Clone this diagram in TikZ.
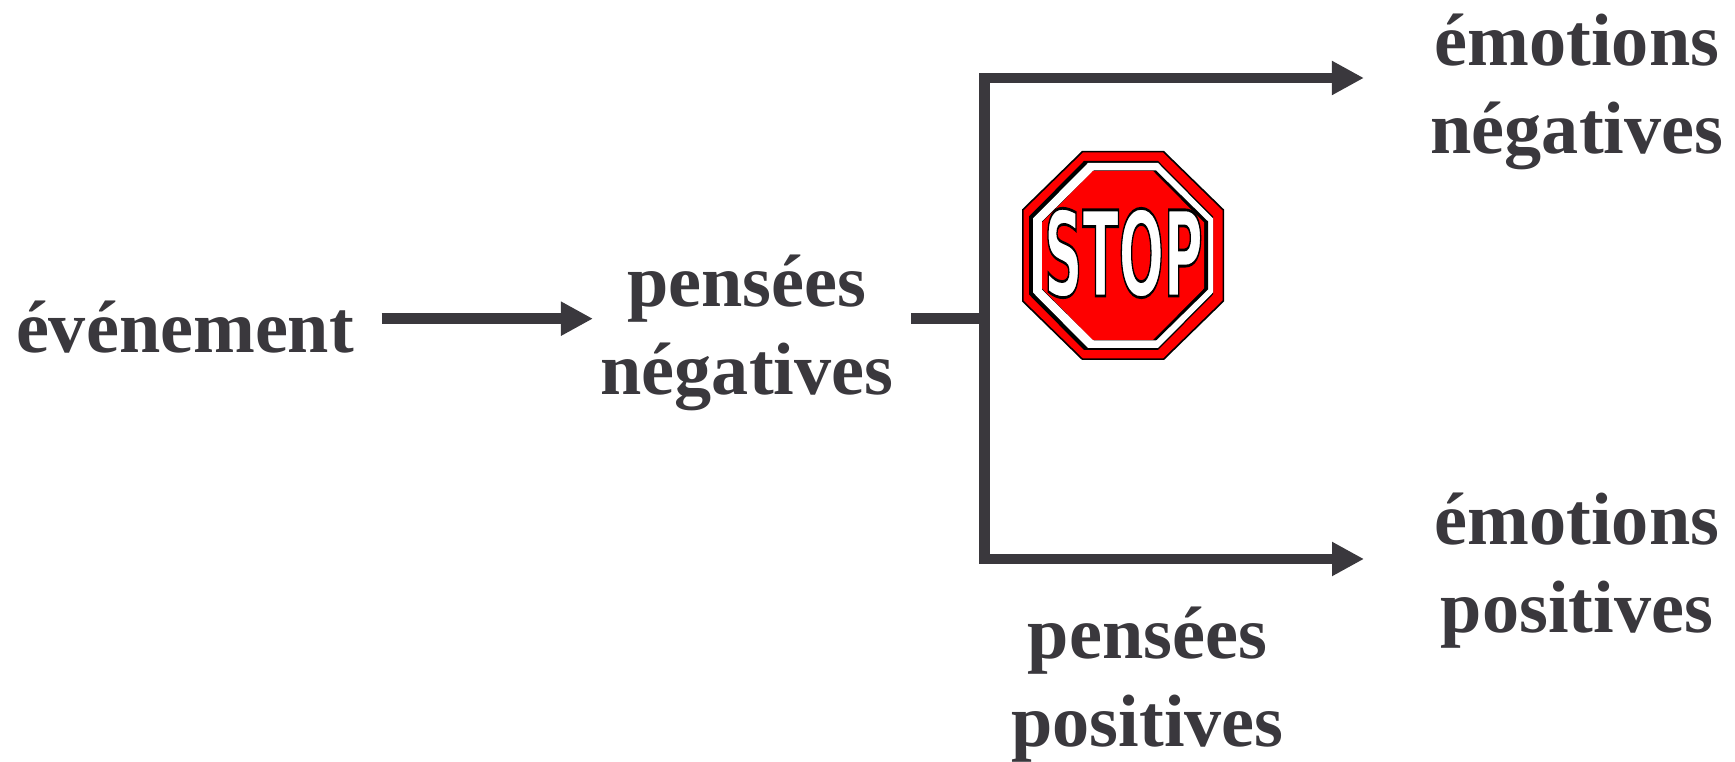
\documentclass[tikz,border=0pt]{standalone}
\usepackage{fontspec}
\setmainfont{Liberation Serif}
\newfontfamily\stopfont{DejaVu Sans}
\usetikzlibrary{arrows.meta}
\definecolor{inkgray}{HTML}{3A383D}
\definecolor{stopred}{HTML}{FE0000}
\tikzset{
  label/.style={text=inkgray,font=\fontsize{21.1}{25}\selectfont\bfseries,align=center,inner sep=0pt},
  flow/.style={draw=inkgray,line width=0.105cm,miter limit=10,
    -{Triangle[length=0.32cm,width=0.32cm]}},
  flowboth/.style={flow,{Triangle[length=0.32cm,width=0.32cm]}-{Triangle[length=0.32cm,width=0.32cm]}}
}
% octagon around the sign centre: colour, shift, half width, half height, half top edge, half side
\newcommand{\signoct}[6]{%
  \fill[#1] (1123+#2-#5,255.5-#4) -- (1123+#2+#5,255.5-#4) -- (1123+#2+#3,255.5-#6)
    -- (1123+#2+#3,255.5+#6) -- (1123+#2+#5,255.5+#4) -- (1123+#2-#5,255.5+#4)
    -- (1123+#2-#3,255.5+#6) -- (1123+#2-#3,255.5-#6) -- cycle;}
\begin{document}
\begin{tikzpicture}[x=0.01cm,y=-0.01cm]
\useasboundingbox (0,0) rectangle (1735,762);
\node[label] (evenement) at (185,327) {événement};
\node[label] (pensneg) at (747,333) {pensées\\négatives};
\node[label] (emneg) at (1577,92) {émotions\\négatives};
\node[label] (empos) at (1577,571) {émotions\\positives};
\node[label] (penspos) at (1147.5,685) {pensées\\positives};
\coordinate (branch) at (984.5,318.7);
\coordinate (elbowtop) at (984.5,78);
\coordinate (elbowbot) at (984.5,559);
\draw[flow,shorten <=0.27cm,shorten >=0.07cm] (evenement.east |- branch) -- (pensneg.west |- branch);
\draw[draw=inkgray,line width=0.105cm,shorten <=0.17cm] (pensneg.east |- branch) -- (branch);
\draw[flowboth,shorten <=0.66cm,shorten >=0.70cm] (emneg.west |- elbowtop) -- (elbowtop) -- (elbowbot) -- (empos.west |- elbowbot);
% stop sign
\signoct{black}{0}{101}{104.5}{41}{46}
\signoct{stopred}{0}{99.5}{103}{40}{45}
\signoct{black}{-2}{92}{94.5}{37}{39}
\signoct{white}{0}{90}{92.5}{35}{37}
\signoct{black}{2}{83}{85}{31}{34}
\signoct{stopred}{0}{81}{84.5}{30}{33}
\node[text=white,inner sep=0pt,font=\stopfont\bfseries\fontsize{33.6}{34}\selectfont,xscale=0.45] (stoptext) at (1123.5,253)
  {\special{pdf:code 2 Tr 0 0 0 RG 0.8 w}STOP\special{pdf:code 0 Tr}};
\end{tikzpicture}
\end{document}
